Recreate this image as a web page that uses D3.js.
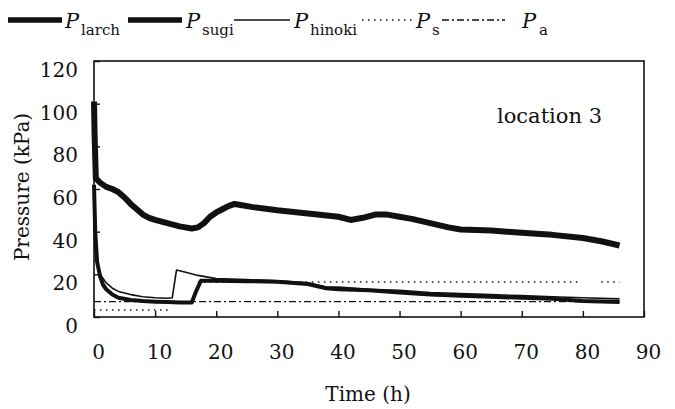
<!DOCTYPE html>
<html>
<head>
<meta charset="utf-8">
<script src="https://cdn.jsdelivr.net/npm/d3@7"></script>
<style>
  body { margin: 0; background: #fff; }
  svg text { font-family: "DejaVu Serif", "Liberation Serif", serif; fill: #111; }
</style>
</head>
<body>
<svg id="canvas"></svg>
<script>
const width = 675;
const height = 409;

// series (time in h, pressure in kPa)
const larchTime = [0, 0.1, 0.3, 1, 2, 3, 4, 5, 6, 7, 8, 9, 10, 12, 14, 16, 17, 18, 19, 20, 21, 22, 23, 24, 26, 30, 35, 40, 42, 44, 46, 48, 50, 52, 55, 58, 60, 65, 70, 75, 80, 83, 86];
const larchP = [101, 85, 65, 63, 61, 60, 58.5, 56, 53, 50.5, 48, 46.5, 45.5, 44, 42.5, 41.5, 42, 44, 47, 49, 50.5, 52, 53, 52.5, 51.5, 50, 48.5, 47, 45.5, 46.5, 48, 48, 47, 46, 44, 42, 41, 40.5, 39.5, 38.5, 37, 35.5, 33.5];

const sugiTime = [0, 0.2, 0.5, 1, 1.5, 2, 3, 4, 6, 8, 10, 12, 14, 16, 16.7, 17.5, 20, 25, 30, 35, 38, 40, 45, 50, 55, 60, 65, 70, 75, 80, 86];
const sugiP = [62, 40, 26, 19, 15, 13, 10.5, 9, 8, 7.5, 7.2, 7, 6.8, 6.8, 12, 17, 17, 16.8, 16.5, 15.5, 13.5, 13, 12.5, 11.5, 10.5, 10, 9.5, 9, 8.5, 7.5, 7];

const hinokiTime = [0, 0.3, 0.7, 1, 2, 3, 4, 6, 8, 10, 12, 12.8, 13.5, 15, 17, 20, 25, 30, 35, 38, 40, 45, 50, 55, 60, 65, 70, 75, 80, 86];
const hinokiP = [45, 30, 23, 20, 16, 13.5, 12, 10.5, 9.5, 9, 8.8, 9, 22, 21, 19.5, 18, 17.5, 17, 16, 14, 14, 13, 12.5, 11.5, 11, 10.5, 10, 9.5, 9, 8.5];

const sTime = [0, 12.5, 12.6, 17, 79.5, 79.6, 83, 86];
const sP = [3.3, 3.3, null, 16.4, 16.4, null, 16.4, 16.4];

const aTime = [0, 86];
const aP = [7.2, 7.2];

const xTicks = [0, 10, 20, 30, 40, 50, 60, 70, 80, 90];
const yTicks = [0, 20, 40, 60, 80, 100, 120];

const serif = '"DejaVu Serif", "Liberation Serif", serif';

const svg = d3.select("#canvas").attr("width", width).attr("height", height);

const xScale = d3.scaleLinear().domain([0, 90]).range([94, 644]);
const yScale = d3.scaleLinear().domain([0, 120]).range([317, 61]);

// plot box
svg
  .append("rect")
  .attr("x", xScale(0))
  .attr("y", yScale(120))
  .attr("width", xScale(90) - xScale(0))
  .attr("height", yScale(0) - yScale(120))
  .attr("fill", "none")
  .attr("stroke", "#111")
  .attr("stroke-width", 1.6);

const xAxis = svg
  .append("g")
  .attr("transform", `translate(0, ${yScale(0)})`)
  .call(d3.axisBottom(xScale).tickValues(xTicks).tickSizeInner(-6).tickSizeOuter(0).tickPadding(28));
xAxis.attr("font-family", serif).attr("font-size", 20);
xAxis.select(".domain").remove();
xAxis.selectAll("line").attr("stroke", "#111").attr("stroke-width", 1.4);
xAxis.selectAll("text").attr("dx", 4);

const yAxis = svg
  .append("g")
  .attr("transform", `translate(${xScale(0)}, 0)`)
  .call(d3.axisLeft(yScale).tickValues(yTicks).tickSizeInner(-6).tickSizeOuter(0).tickPadding(16));
yAxis.attr("font-family", serif).attr("font-size", 20);
yAxis.select(".domain").remove();
yAxis.selectAll("line").attr("stroke", "#111").attr("stroke-width", 1.4);
yAxis.selectAll("text").attr("dy", "0.32em").attr("y", 9);

// axis titles
svg
  .append("text")
  .attr("x", 368)
  .attr("y", 401)
  .attr("text-anchor", "middle")
  .style("font-size", "20px")
  .text("Time (h)");

svg
  .append("text")
  .attr("transform", "translate(29, 187) rotate(-90)")
  .attr("text-anchor", "middle")
  .style("font-size", "20px")
  .text("Pressure (kPa)");

svg
  .append("text")
  .attr("x", 497)
  .attr("y", 123)
  .style("font-size", "21px")
  .text("location 3");

// series
const line = d3
  .line()
  .defined((d) => d.p !== null)
  .x((d) => xScale(d.t))
  .y((d) => yScale(d.p));

const zip = (ts, ps) => ts.map((t, i) => ({ t: t, p: ps[i] }));

const series = [
  { name: "larch", data: zip(larchTime, larchP), width: 6, dash: null },
  { name: "sugi", data: zip(sugiTime, sugiP), width: 4, dash: null },
  { name: "hinoki", data: zip(hinokiTime, hinokiP), width: 1.6, dash: null },
  { name: "s", data: zip(sTime, sP), width: 1.6, dash: "1.5,4.5" },
  { name: "a", data: zip(aTime, aP), width: 1.4, dash: "7,3,2,3" },
];

svg
  .append("g")
  .selectAll("path")
  .data(series)
  .enter()
  .append("path")
  .attr("d", (d) => line(d.data))
  .attr("fill", "none")
  .attr("stroke", "#111")
  .attr("stroke-width", (d) => d.width)
  .attr("stroke-linejoin", "round")
  .attr("stroke-dasharray", (d) => d.dash);

// legend across the top
const legendItems = [
  { name: "larch", x1: 8, x2: 62, px: 65, sx: 81, width: 5.5, dash: null },
  { name: "sugi", x1: 128, x2: 182, px: 186, sx: 202, width: 5.5, dash: null },
  { name: "hinoki", x1: 234, x2: 290, px: 294, sx: 310, width: 1.5, dash: null },
  { name: "s", x1: 362, x2: 412, px: 416, sx: 432, width: 1.5, dash: "1.5,4.5" },
  { name: "a", x1: 442, x2: 505, px: 522, sx: 539, width: 1.4, dash: "7,3,2,3" },
];

const legend = svg.append("g");

legend
  .selectAll("line")
  .data(legendItems)
  .enter()
  .append("line")
  .attr("x1", (d) => d.x1)
  .attr("x2", (d) => d.x2)
  .attr("y1", 20)
  .attr("y2", 20)
  .attr("stroke", "#111")
  .attr("stroke-width", (d) => d.width)
  .attr("stroke-dasharray", (d) => d.dash);

legend
  .selectAll("text.p")
  .data(legendItems)
  .enter()
  .append("text")
  .attr("class", "p")
  .attr("x", (d) => d.px)
  .attr("y", 28)
  .style("font-size", "21px")
  .style("font-style", "italic")
  .text("P");

legend
  .selectAll("text.sub")
  .data(legendItems)
  .enter()
  .append("text")
  .attr("class", "sub")
  .attr("x", (d) => d.sx)
  .attr("y", 35)
  .style("font-size", "15px")
  .text((d) => d.name);
</script>
</body>
</html>
